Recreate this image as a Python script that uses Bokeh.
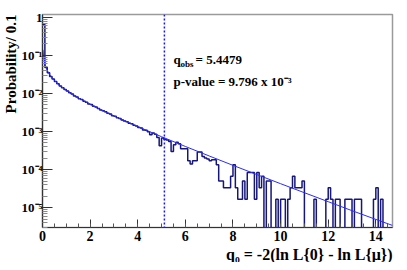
import numpy as np
from bokeh.plotting import figure
from bokeh.models import (Range1d, Span, Label, Title, FixedTicker,
                          SingleIntervalTicker, CustomJSTickFormatter)
from bokeh.embed import file_html
from bokeh.resources import INLINE

# ---------------- data ----------------
bin_width = 0.1
probability = [
    0.65, 0.048, 0.035, 0.028, 0.024, 0.0205, 0.018, 0.0158, 0.0142, 0.0128,
    0.0116, 0.0104, 0.0097, 0.0086, 0.0081, 0.0073, 0.0069, 0.0062, 0.0059, 0.0053,
    0.0051, 0.0046, 0.0044, 0.0040, 0.0037, 0.0035, 0.0033, 0.0030, 0.0029, 0.0026,
    0.0025, 0.0023, 0.0022, 0.0020, 0.0019, 0.0018, 0.00165, 0.0016, 0.00145, 0.0014,
    0.00128, 0.00124, 0.0011, 0.00108, 0.00098, 0.00082, 0.00092, 0.00085, 0.0007, 0.00042,
    0.00068, 0.00062, 0.0006, 0.00055, 0.0003, 0.00045, 0.00052, 0.00048, 0.00035, 0.00035,
    0.00035, 0.00017, 0.00014, 0.00017, 0.00017, 0.00029, 0.00029, 0.00022, 0.0002, 0.00019,
    0.00017, 0.00018, 0.00018, 0.000133, 0.00005, 0.00005, 0.0000333, 0.0000333, 0.0000333, 0.0000667,
    0.000133, 0.0000333, 0.0000167, 0.0000167, 0.00005, 0.0000167, 0.0000833, 0.0000833, 0.0000833, 0.0000167,
    0.0000833, 0.0000333, 0.0000667, 0.0, 0.00005, 0.00005, 0.0, 0.0, 0.0000167, 0.0,
    0.0000167, 0.0000167, 0.0, 0.0000167, 0.0000333, 0.0000667, 0.0000333, 0.0000333, 0.0000333, 0.00005,
    0.0, 0.0, 0.0, 0.0, 0.0000167, 0.0, 0.0, 0.0, 0.0, 0.0000167,
    0.0000333, 0.0000167, 0.0, 0.0000167, 0.0000167, 0.0, 0.0, 0.0000167, 0.0000167, 0.0000167,
    0.0, 0.0000167, 0.0000167, 0.0000167, 0.0, 0.0, 0.0, 0.0, 0.0, 0.0000167,
    0.0000333, 0.0, 0.0000167, 0.0, 0.0, 0.0, 0.0,
]

curve_q = [0.02, 0.05, 0.1, 0.2, 0.3, 0.5, 0.75, 1.0, 1.5, 2.0, 2.5, 3.0,
           4.0, 5.0, 6.0, 7.0, 8.0, 9.0, 10.0, 11.0, 12.0, 13.0, 14.0, 14.7]
curve_p = [0.14, 0.087, 0.060, 0.0404, 0.0313, 0.0220, 0.0158, 0.0121, 0.0077,
           0.0052, 0.0036, 0.00257, 0.00135, 0.00073, 0.000405, 0.000228,
           0.000129, 0.0000739, 0.0000425, 0.0000246, 0.0000143, 0.0000083,
           0.0000049, 0.0000034]

q_obs_line = 5.12
y_major = [1e-5, 1e-4, 1e-3, 1e-2, 1e-1, 1.0]
q_obs_value = "5.4479"
p_value_text = "p-value = 9.796 x 10\u207b\u00b3"
x_title = "q\u2080 = -2(ln L{0} - ln L{\u03bc})"
y_title = "Probability/ 0.1"

FONT = "Liberation Serif"

p = figure(width=399, height=262, y_axis_type="log",
           x_range=Range1d(0, 14.7), y_range=Range1d(3.0e-6, 1.19),
           output_backend="svg", toolbar_location=None,
           min_border_left=40, min_border_right=7,
           min_border_top=14, min_border_bottom=30)

p.background_fill_color = "white"
p.border_fill_color = "white"
p.outline_line_color = "#9a9a9a"
p.outline_line_width = 1.5
p.xgrid.visible = False
p.ygrid.visible = False

# x axis
xa = p.xaxis[0]
xa.ticker = SingleIntervalTicker(interval=2, num_minor_ticks=4)
xa.major_tick_in = 8
xa.major_tick_out = 0
xa.minor_tick_in = 4
xa.minor_tick_out = 0
xa.major_tick_line_color = "#333333"
xa.minor_tick_line_color = "#555555"
xa.axis_line_color = "#333333"
xa.axis_line_width = 1.2
xa.major_label_standoff = 3
xa.major_label_text_font = FONT
xa.major_label_text_font_style = "bold"
xa.major_label_text_font_size = "14px"
xa.major_label_text_color = "black"

# y axis
ya = p.yaxis[0]
ya.ticker = FixedTicker(ticks=y_major,
                        minor_ticks=[m * 10.0 ** k for k in range(-6, 1) for m in range(2, 10)])
ya.formatter = CustomJSTickFormatter(code="""
const e = Math.round(Math.log10(tick));
if (e === 0) { return "1"; }
const sup = {"-": "\u207b", "0": "\u2070", "1": "\u00b9", "2": "\u00b2", "3": "\u00b3",
             "4": "\u2074", "5": "\u2075", "6": "\u2076", "7": "\u2077", "8": "\u2078", "9": "\u2079"};
return "10" + String(e).split("").map(c => sup[c]).join("");
""")
ya.major_tick_in = 10
ya.major_tick_out = 0
ya.minor_tick_in = 5
ya.minor_tick_out = 0
ya.major_tick_line_color = "#333333"
ya.minor_tick_line_color = "#8a8a8a"
ya.axis_line_color = "#333333"
ya.axis_line_width = 1.2
ya.major_label_standoff = 0
ya.major_label_text_font = FONT
ya.major_label_text_font_style = "bold"
ya.major_label_text_font_size = "13px"
ya.major_label_text_color = "black"

# histogram (empty bins drawn down past the frame bottom, like ROOT)
vals = np.array(probability)
edges = np.arange(len(vals) + 1) * bin_width
floor = p.y_range.start * 1e-3
ys = np.append(np.where(vals > 0, vals, floor), floor)
p.step(edges, ys, mode="after", line_color="#16167a", line_width=1.5)

# asymptotic curve
p.line(curve_q, curve_p, line_color="#2b2bff", line_width=1)

# observed q line
p.add_layout(Span(location=q_obs_line, dimension="height", line_color="#1515ff",
                  line_dash="2 2", line_width=1.5))

# axis titles as side-panel titles (ROOT-style end alignment)
p.add_layout(Title(text=y_title, align="right", text_font=FONT, text_font_style="bold",
                   text_font_size="15px", text_color="black", standoff=0), "left")
p.add_layout(Title(text=x_title, align="right", text_font=FONT, text_font_style="bold",
                   text_font_size="16px", text_color="black", standoff=0), "below")

def lab(text, x, y, size):
    p.add_layout(Label(x=x, y=y, x_units="screen", y_units="screen", text=text,
                       text_font=FONT, text_font_style="bold", text_baseline="alphabetic",
                       text_font_size=size, text_color="black"))

# annotations
lab("q", 131, 168, "13px")
lab("obs", 138, 164, "9px")
lab("= " + q_obs_value, 153, 168, "13px")
lab(p_value_text, 131, 146, "13px")

open("out.html", "w").write(file_html(p, INLINE))
